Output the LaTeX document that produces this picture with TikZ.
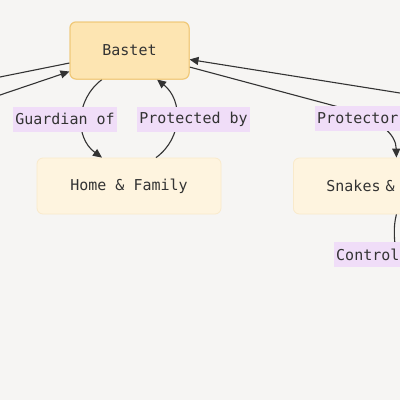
\documentclass[tikz,border=0pt]{standalone}
\usepackage{fontspec}
\setmonofont{DejaVu Sans Mono}
\usetikzlibrary{arrows.meta}
\definecolor{bg}{HTML}{F6F5F3}
\definecolor{mainfill}{HTML}{FDE5B2}
\definecolor{mainline}{HTML}{F0C878}
\definecolor{subfill}{HTML}{FEF4DF}
\definecolor{subline}{HTML}{F9EACB}
\definecolor{lblfill}{HTML}{F0DDF8}
\definecolor{edge}{HTML}{333333}
\definecolor{txt}{HTML}{333333}
\tikzset{
  mainbox/.style={draw=mainline, line width=1pt, fill=mainfill, rounded corners=6pt, minimum width=119pt, minimum height=57pt, inner sep=0pt, text=txt, font=\ttfamily\fontsize{15}{18}\selectfont},
  subbox/.style={draw=subline, line width=0.8pt, fill=subfill, rounded corners=6pt, minimum height=56pt, inner sep=0pt, text=txt, font=\ttfamily\fontsize{15}{18}\selectfont},
  lbl/.style={fill=lblfill, inner xsep=2.5pt, inner ysep=0pt, minimum height=25pt, text=txt, font=\ttfamily\fontsize{15}{18}\selectfont},
  conn/.style={draw=edge, line width=1.1pt},
  tip/.style={-{Triangle[length=9pt,width=8pt]}}
}
\begin{document}
\begin{tikzpicture}[x=1pt,y=-1pt]
\useasboundingbox (0,0) rectangle (400,400);
\fill[bg] (0,0) rectangle (400,400);
\clip (0,0) rectangle (400,400);

% nodes
\node[mainbox] (bastet) at (129.5,50.5) {Bastet};
\node[subbox, minimum width=184pt] (home) at (129,186) {Home \& Family};
\node[subbox, anchor=west, text width=140pt, align=left, inner xsep=33pt] (snakes) at (293,186) {Snakes \&};

% free ends
\coordinate (leftA) at (-10,79);
\coordinate (leftB) at (-10,98.4);
\coordinate (rightA) at (410,94.6);
\coordinate (ctrl) at (397,258);

% connectors
\draw[conn] ([yshift=-12.5pt]bastet.west) -- (leftA);
\draw[conn, tip] (leftB) -- ([yshift=-21pt]bastet.west);
\draw[conn, tip] (rightA) -- ([yshift=-9pt]bastet.east);
\draw[conn, tip] ([yshift=-16.5pt]bastet.east) -- (335,106) .. controls (382,119) and (396,135) .. ([xshift=0pt]snakes.north);
\draw[conn, tip] ([xshift=-27.5pt]bastet.south) .. controls (75,100) and (75,138) .. ([xshift=-27pt]home.north);
\draw[conn, tip] ([xshift=27pt]home.north) .. controls (183,138) and (183,100) .. ([xshift=27.5pt]bastet.south);
\draw[conn] (snakes.south) .. controls (393,228) and (394,240) .. (ctrl);

% redraw boxes on top of line ends
\node[mainbox] at (bastet) {Bastet};

% labels
\node[lbl] (lg) at (65,119) {Guardian of};
\node[lbl] (lp) at (193.5,119) {Protected by};
\node[lbl, anchor=west, text width=110pt, align=left] (lpr) at (314.5,118) {Protector};
\node[lbl, anchor=west, text width=110pt, align=left] (lc) at (333.5,254.5) {Control};
\end{tikzpicture}
\end{document}
